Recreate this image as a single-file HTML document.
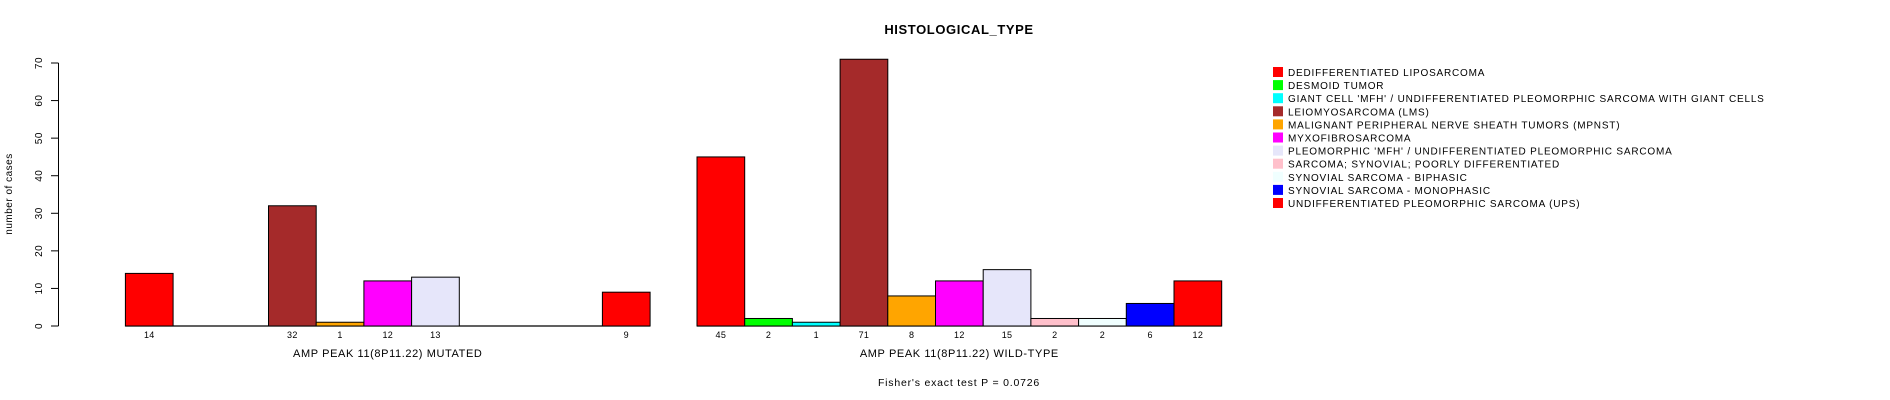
<!DOCTYPE html>
<html><head><meta charset="utf-8"><style>
html,body{margin:0;padding:0;background:#fff;}
svg{display:block;font-family:"Liberation Sans",sans-serif;}
</style></head><body>
<svg id="chart" width="1890" height="400" viewBox="0 0 1890 400" xmlns="http://www.w3.org/2000/svg"></svg>
<script>
const categories = ["DEDIFFERENTIATED LIPOSARCOMA","DESMOID TUMOR","GIANT CELL 'MFH' / UNDIFFERENTIATED PLEOMORPHIC SARCOMA WITH GIANT CELLS","LEIOMYOSARCOMA (LMS)","MALIGNANT PERIPHERAL NERVE SHEATH TUMORS (MPNST)","MYXOFIBROSARCOMA","PLEOMORPHIC 'MFH' / UNDIFFERENTIATED PLEOMORPHIC SARCOMA","SARCOMA; SYNOVIAL; POORLY DIFFERENTIATED","SYNOVIAL SARCOMA - BIPHASIC","SYNOVIAL SARCOMA - MONOPHASIC","UNDIFFERENTIATED PLEOMORPHIC SARCOMA (UPS)"];
const colors = ["#FF0000","#00FF00","#00FFFF","#A52A2A","#FFA500","#FF00FF","#E6E6FA","#FFC0CB","#F0FFFF","#0000FF","#FF0000"];
const groups = ["AMP PEAK 11(8P11.22) MUTATED","AMP PEAK 11(8P11.22) WILD-TYPE"];
const mutatedValues = [14,0,0,32,1,12,13,0,0,0,9];
const wildValues = [45,2,1,71,8,12,15,2,2,6,12];
const yTicks = [0,10,20,30,40,50,60,70];

const svg = document.getElementById('chart');
const NS = 'http://www.w3.org/2000/svg';
function mk(tag, attrs, text){const e=document.createElementNS(NS,tag);for(const k in attrs)e.setAttribute(k,attrs[k]);if(text!==undefined)e.textContent=text;svg.appendChild(e);return e;}
const y0=326, yTop=63, yMax=70;
const yScale = v => y0 - v*(y0-yTop)/yMax;
const barW=47.7, groupStarts=[125.4,697];
const xBar = (g,i) => groupStarts[g] + i*barW;

let t=mk('text',{x:959,y:34,'text-anchor':'middle','font-size':13,'font-weight':'bold','letter-spacing':0.6},'HISTOLOGICAL_TYPE');



let ax=mk('line',{x1:58.5,y1:yScale(0),x2:58.5,y2:yScale(70),stroke:'#000','stroke-width':1});


yTicks.forEach(v=>{
  const y=yScale(v);
  const tk=mk('line',{x1:51,y1:y,x2:58.5,y2:y,stroke:'#000'});
  
  
  const lb=mk('text',{x:0,y:0,transform:`translate(42,${y}) rotate(-90)`,'text-anchor':'middle','font-size':10,'letter-spacing':0.5},String(v));
  
  
});
let yt=mk('text',{x:0,y:0,transform:'translate(12,194) rotate(-90)','text-anchor':'middle','font-size':10,'letter-spacing':0.5},'number of cases');



[mutatedValues,wildValues].forEach((vals,g)=>{
  const bl=mk('line',{x1:groupStarts[g],y1:y0,x2:groupStarts[g]+barW*vals.length,y2:y0,stroke:'#000','stroke-width':1.2});
  
  
  vals.forEach((v,i)=>{
    const x=xBar(g,i), y=yScale(v);
    const r=mk('rect',{x:x,y:y,width:barW,height:Math.max(y0-y,0),fill:colors[i],stroke:'#000','stroke-width':1});
    
    
    if(v>0){
      const l=mk('text',{x:x+barW/2,y:338,'text-anchor':'middle','font-size':9,'letter-spacing':0.3},String(v));
      
      
    }
  });
  const gl=mk('text',{x:groupStarts[g]+barW*vals.length/2,y:357,'text-anchor':'middle','font-size':11,'letter-spacing':0.6},groups[g]);
  
  
});

let f=mk('text',{x:959,y:386,'text-anchor':'middle','font-size':10.5,'letter-spacing':0.8},"Fisher's exact test P = 0.0726");



categories.forEach((c,i)=>{
  const y=67+i*13.1;
  const s=mk('rect',{x:1273,y:y,width:10,height:10,fill:colors[i]});
  
  
  const l=mk('text',{x:1288,y:y+9,'font-size':10,'letter-spacing':0.8},c);
  
  
});
</script>
</body></html>
